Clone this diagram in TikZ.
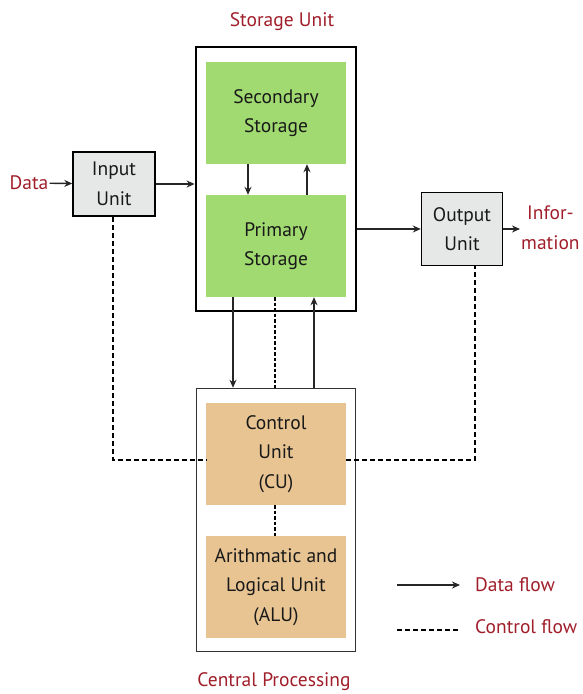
\documentclass[tikz,border=0pt]{standalone}
\usepackage{fontspec}
\setmainfont{PT Sans}
\usepackage{tikz}
\usetikzlibrary{shapes,arrows.meta,positioning}

\definecolor{unitred}{RGB}{160,30,42}
\definecolor{storegreen}{RGB}{160,218,112}
\definecolor{cputan}{RGB}{231,196,146}
\definecolor{iogray}{RGB}{230,232,232}

\begin{document}
\begin{tikzpicture}[x=1pt,y=-1pt]
		\tikzstyle{Frame}	= [rectangle, draw=black, line width=2.8pt, inner sep=0pt]
		\tikzstyle{CFrame}	= [rectangle, draw=black!80, line width=1.5pt, inner sep=0pt]
		\tikzstyle{Block}	= [rectangle, minimum width=140pt, minimum height=102pt, align=center, inner sep=0pt, text=black!90, font=\fontsize{19.5}{29.5}\selectfont]
		\tikzstyle{Store}	= [Block, fill=storegreen]
		\tikzstyle{Proc}	= [Block, fill=cputan]
		\tikzstyle{IO}		= [rectangle, draw, line width=1.4pt, fill=iogray, align=center, text=black!90, font=\fontsize{19.5}{29.5}\selectfont]
		\tikzstyle{Label}	= [text=unitred, align=center, font=\fontsize{19.5}{30}\selectfont]
		\tikzstyle{DF}		= [-{Stealth[length=8pt,width=7pt]}, line width=1.4pt, black!85]
		\tikzstyle{CF}		= [line width=2.6pt, dash pattern=on 5pt off 3pt]
		\tikzstyle{CFin}	= [line width=1.8pt, dash pattern=on 3.5pt off 2pt]
		
		\useasboundingbox (0,0) rectangle (582,694);
		
		\node (su) at (276,179) [Frame, minimum width=160pt, minimum height=264pt] {};
		\node (cpu) at (276,520) [CFrame, minimum width=159pt, minimum height=263pt] {};
		\node (sec) at (276,113) [Store] {Secondary\\Storage};
		\node (prim) at (276,246) [Store] {Primary\\Storage};
		\node (cu) at (276,454) [Proc] {Control\\Unit\\(CU)};
		\node (alu) at (276,587) [Proc] {Arithmatic and\\Logical Unit\\(ALU)};
		\node (in) at (114,184) [IO, minimum width=82pt, minimum height=64pt] {Input\\Unit};
		\node (out) at (462,229) [IO, minimum width=81pt, minimum height=73pt] {Output\\Unit};
		
		\node (sut) at (282,22) [Label] {Storage Unit};
		\node (cput) at (274,682) [Label] {Central Processing};
		\node (data) at (29,183) [Label, inner sep=1pt] {Data};
		\node (info) at (521,228) [Label, anchor=west, inner sep=0pt] {Infor-\\mation};
		
		\coordinate (cl) at (113,460);
		\coordinate (cr) at (475,460);
		
		% data flow
		\draw (data) to (in) [DF];
		\draw (in.east) to (in.east -| su.west) [DF];
		\draw ([xshift=-28pt]sec.south) to ([xshift=-28pt]prim.north) [DF];
		\draw ([xshift=31pt]prim.north) to ([xshift=31pt]sec.south) [DF];
		\draw (out.west -| su.east) to (out.west) [DF];
		\draw (out.east) to ([xshift=-1pt]info.west |- out.east) [DF];
		\draw ([xshift=-43pt]prim.south) to ([xshift=-43pt]cpu.north) [DF];
		\draw ([xshift=38pt]cpu.north) to ([xshift=38pt]prim.south) [DF];
		
		% control flow
		\draw ([xshift=-1pt]prim.south) to ([xshift=-1pt]cpu.north) [CFin];
		\draw ([xshift=-1pt]cu.south) to ([xshift=-1pt]alu.north) [CFin];
		\draw (in.south -| cl) to (cl) to (cl -| cu.west) [CF];
		\draw (cu.east |- cr) to (cr) to (cr |- out.south) [CF];
		
		% legend
		\coordinate (la) at (397,585);
		\coordinate (lb) at (460,585);
		\coordinate (lc) at (397,630);
		\coordinate (ld) at (460,630);
		\draw (la) to (lb) [DF];
		\draw (lc) to (ld) [CF];
		\node (ldf) at (475,585) [Label, anchor=west, inner sep=0pt] {Data flow};
		\node (lcf) at (475,627) [Label, anchor=west, inner sep=0pt] {Control flow};
	\end{tikzpicture}
\end{document}
